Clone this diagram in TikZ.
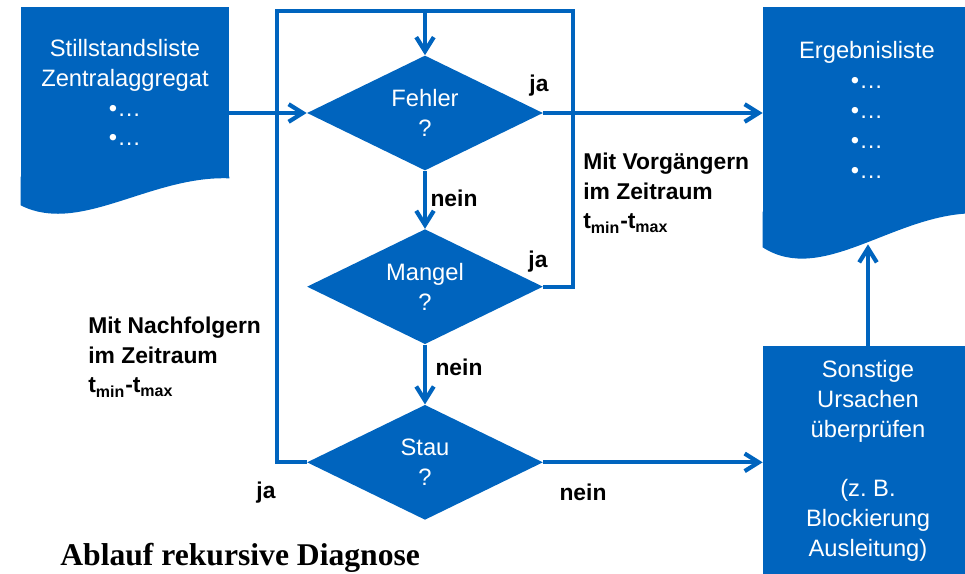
\documentclass[tikz,border=0pt]{standalone}
\usepackage{fontspec}
\setmainfont{Liberation Sans}
\newfontfamily\titlefont{Liberation Serif}
\usetikzlibrary{shapes.geometric, arrows.meta, positioning, calc}
\definecolor{diagblue}{RGB}{0,100,190}

\begin{document}
\begin{tikzpicture}[
        x=0.02cm, y=-0.02cm,
        >={Straight Barb[length=8pt,width=10pt]},
        base/.style={fill=diagblue, text=white, align=center, inner sep=0pt, font=\fontsize{13.5}{17}\selectfont},
        decision/.style={base, diamond, aspect=2, minimum width=4.72cm, minimum height=2.3cm},
        liste/.style={base, rectangle, minimum width=4.16cm},
        process/.style={base, rectangle, minimum width=4.2cm, minimum height=4.6cm},
        line/.style={draw=diagblue, line width=2.4pt},
        arrow/.style={line, ->},
        note/.style={font=\fontsize{13}{17}\selectfont\bfseries, align=left, inner sep=0pt},
    ]
    \useasboundingbox (0,0) rectangle (965,574);

    % Nodes
    \node[liste, minimum height=3.42cm] (still) at (125,92.5) {Stillstandsliste\\Zentralaggregat\\•…\\•…};
    \node[decision] (fehler) at (425,113) {Fehler\\?};
    \node[decision, below=1.16cm of fehler] (mangel) {Mangel\\?};
    \node[decision, below=1.2cm of mangel] (stau) {Stau\\?};
    \node[liste, minimum height=4.12cm] (ergebnis) at (867,110) {Ergebnisliste\\•…\\•…\\•…\\•…};
    \node[process] (sonst) at (868,461) {Sonstige\\Ursachen\\überprüfen\\[17pt](z.~B.\\Blockierung\\Ausleitung)};

    % Wavy bottoms of the lists
    \fill[diagblue] ([yshift=1pt]still.south west) -- (still.south west) -- ++(0,27)
        .. controls +(59,30) and +(-79,-3) .. (still.south east) -- ([yshift=1pt]still.south east) -- cycle;
    \fill[diagblue] ([yshift=1pt]ergebnis.south west) -- (ergebnis.south west) -- ++(0,34)
        .. controls +(59,38) and +(-79,2) .. (ergebnis.south east) -- ([yshift=1pt]ergebnis.south east) -- cycle;

    \coordinate (oben) at ($(fehler.north)+(0,-44)$);
    \coordinate (ergin) at ($(sonst.north |- ergebnis.south)+(0,31)$);

    % Arrows
    \draw[arrow] (still.east |- fehler.west) -- (fehler.west);
    \draw[arrow] (fehler.east) -- (fehler.east -| ergebnis.west);
    \draw[arrow] (fehler.south) -- (mangel.north);
    \draw[arrow] (mangel.south) -- (stau.north);
    \draw[line] (mangel.east) -- ++(30,0) |- (oben);
    \draw[line] (stau.west) -- ++(-30,0) |- (oben);
    \draw[arrow] (oben) -- (fehler.north);
    \draw[arrow] (stau.east) -- (stau.east -| sonst.west);
    \draw[arrow] (sonst.north) -- (ergin);

    % Labels
    \node[note] (ja1) at (539,86) {ja};
    \node[note] (nein1) at (454,198) {nein};
    \node[note] (ja2) at (538,262) {ja};
    \node[note] (nein2) at (459,367) {nein};
    \node[note] (ja3) at (266,493) {ja};
    \node[note] (nein3) at (583,492) {nein};
    \node[note, anchor=west] (vorg) at (583,193) {Mit Vorgängern\\im Zeitraum\\t\textsubscript{min}-t\textsubscript{max}};
    \node[note, anchor=west] (nachf) at (88,357) {Mit Nachfolgern\\im Zeitraum\\t\textsubscript{min}-t\textsubscript{max}};
    \node[font=\titlefont\fontsize{18}{20}\selectfont\bfseries, anchor=base west, inner sep=0pt] (titel) at (60,566) {Ablauf rekursive Diagnose};

\end{tikzpicture}
\end{document}
